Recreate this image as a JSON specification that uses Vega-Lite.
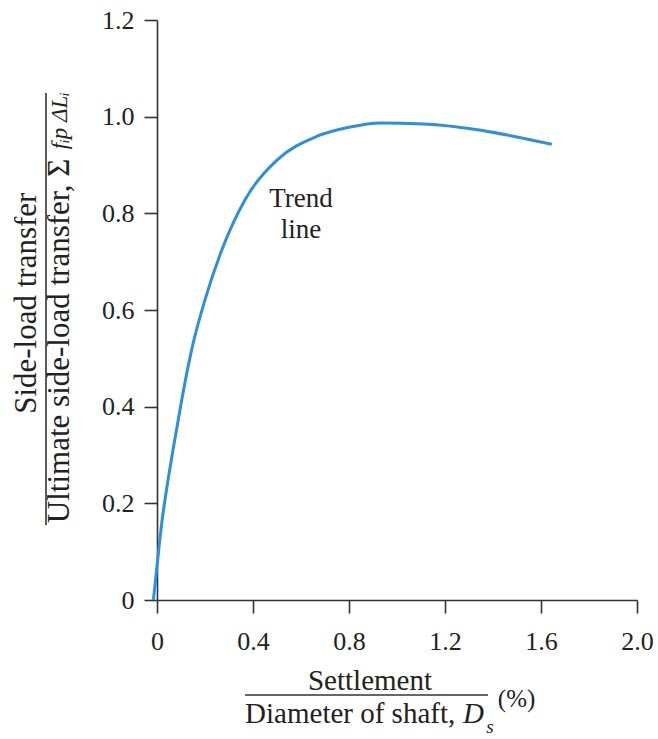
{
  "$schema": "https://vega.github.io/schema/vega-lite/v6.json",
  "width": 480,
  "height": 580,
  "autosize": "none",
  "padding": {"left": 157, "top": 20, "right": 21, "bottom": 139},
  "background": "white",
  "config": {"view": {"stroke": null}, "font": "Liberation Serif"},
  "datasets": {
    "curve": [
      {"x": -0.015, "y": 0},
      {"x": 0.0, "y": 0.07},
      {"x": 0.02, "y": 0.16},
      {"x": 0.045, "y": 0.245},
      {"x": 0.07, "y": 0.32},
      {"x": 0.103, "y": 0.414},
      {"x": 0.144, "y": 0.517},
      {"x": 0.2, "y": 0.621},
      {"x": 0.27, "y": 0.724},
      {"x": 0.367, "y": 0.828},
      {"x": 0.5, "y": 0.91},
      {"x": 0.665, "y": 0.959},
      {"x": 0.8, "y": 0.978},
      {"x": 0.93, "y": 0.987},
      {"x": 1.11, "y": 0.985},
      {"x": 1.35, "y": 0.972},
      {"x": 1.51, "y": 0.957},
      {"x": 1.645, "y": 0.943}
    ],
    "bars": [
      {"x": 0.367, "x2": 1.379, "y": -0.1966, "y2": -0.1966},
      {"x": -0.4625, "x2": -0.4625, "y": 0.155, "y2": 1.049}
    ]
  },
  "layer": [
    {
      "data": {"name": "curve"},
      "mark": {"type": "line", "color": "#2f8fd8", "strokeWidth": 3, "interpolate": "monotone"},
      "encoding": {
        "x": {
          "field": "x", "type": "quantitative",
          "scale": {"domain": [0, 2], "nice": false},
          "axis": {
            "title": null, "values": [0, 0.4, 0.8, 1.2, 1.6, 2.0],
            "labelExpr": "datum.value == 0 ? '0' : format(datum.value, '.1f')",
            "grid": false, "domainColor": "#333", "domainWidth": 1.6,
            "tickColor": "#333", "tickWidth": 1.6, "tickSize": 13,
            "labelFont": "Liberation Serif", "labelFontSize": 26, "labelColor": "#222",
            "labelPadding": 15, "labelFlush": false, "labelOverlap": false
          }
        },
        "y": {
          "field": "y", "type": "quantitative",
          "scale": {"domain": [0, 1.2], "nice": false},
          "axis": {
            "title": null, "values": [0, 0.2, 0.4, 0.6, 0.8, 1.0, 1.2],
            "labelExpr": "datum.value == 0 ? '0' : format(datum.value, '.1f')",
            "grid": false, "domainColor": "#333", "domainWidth": 1.6,
            "tickColor": "#333", "tickWidth": 1.6, "tickSize": 13,
            "labelFont": "Liberation Serif", "labelFontSize": 26, "labelColor": "#222",
            "labelPadding": 10, "labelFlush": false, "labelOverlap": false
          }
        }
      }
    },
    {
      "data": {"name": "bars"},
      "mark": {"type": "rule", "color": "#333", "strokeWidth": 1.6},
      "encoding": {
        "x": {"field": "x", "type": "quantitative", "scale": {"domain": [0, 2], "nice": false}},
        "x2": {"field": "x2"},
        "y": {"field": "y", "type": "quantitative", "scale": {"domain": [0, 1.2], "nice": false}},
        "y2": {"field": "y2"}
      }
    },
    {
      "data": {"values": [
        {"x": 0.6, "y": 0.813, "t": "Trend"},
        {"x": 0.6, "y": 0.749, "t": "line"}
      ]},
      "mark": {"type": "text", "align": "center", "baseline": "alphabetic", "fontSize": 27, "font": "Liberation Serif", "color": "#222"},
      "encoding": {
        "x": {"field": "x", "type": "quantitative", "scale": {"domain": [0, 2], "nice": false}},
        "y": {"field": "y", "type": "quantitative", "scale": {"domain": [0, 1.2], "nice": false}},
        "text": {"field": "t"}
      }
    },
    {
      "data": {"values": [
        {"x": 0.8875, "y": -0.1862, "t": "Settlement"}
      ]},
      "mark": {"type": "text", "align": "center", "baseline": "alphabetic", "fontSize": 29, "font": "Liberation Serif", "color": "#222"},
      "encoding": {
        "x": {"field": "x", "type": "quantitative", "scale": {"domain": [0, 2], "nice": false}},
        "y": {"field": "y", "type": "quantitative", "scale": {"domain": [0, 1.2], "nice": false}},
        "text": {"field": "t"}
      }
    },
    {
      "data": {"values": [
        {"x": 0.367, "y": -0.2545, "t": "Diameter of shaft,"}
      ]},
      "mark": {"type": "text", "align": "left", "baseline": "alphabetic", "fontSize": 29, "font": "Liberation Serif", "color": "#222"},
      "encoding": {
        "x": {"field": "x", "type": "quantitative", "scale": {"domain": [0, 2], "nice": false}},
        "y": {"field": "y", "type": "quantitative", "scale": {"domain": [0, 1.2], "nice": false}},
        "text": {"field": "t"}
      }
    },
    {
      "data": {"values": [
        {"x": 1.275, "y": -0.2545, "t": "D"}
      ]},
      "mark": {"type": "text", "align": "left", "baseline": "alphabetic", "fontSize": 29, "fontStyle": "italic", "font": "Liberation Serif", "color": "#222"},
      "encoding": {
        "x": {"field": "x", "type": "quantitative", "scale": {"domain": [0, 2], "nice": false}},
        "y": {"field": "y", "type": "quantitative", "scale": {"domain": [0, 1.2], "nice": false}},
        "text": {"field": "t"}
      }
    },
    {
      "data": {"values": [
        {"x": 1.372, "y": -0.275, "t": "s"}
      ]},
      "mark": {"type": "text", "align": "left", "baseline": "alphabetic", "fontSize": 19, "fontStyle": "italic", "font": "Liberation Serif", "color": "#222"},
      "encoding": {
        "x": {"field": "x", "type": "quantitative", "scale": {"domain": [0, 2], "nice": false}},
        "y": {"field": "y", "type": "quantitative", "scale": {"domain": [0, 1.2], "nice": false}},
        "text": {"field": "t"}
      }
    },
    {
      "data": {"values": [
        {"x": 1.42, "y": -0.221, "t": "(%)"}
      ]},
      "mark": {"type": "text", "align": "left", "baseline": "alphabetic", "fontSize": 25, "font": "Liberation Serif", "color": "#222"},
      "encoding": {
        "x": {"field": "x", "type": "quantitative", "scale": {"domain": [0, 2], "nice": false}},
        "y": {"field": "y", "type": "quantitative", "scale": {"domain": [0, 1.2], "nice": false}},
        "text": {"field": "t"}
      }
    },
    {
      "data": {"values": [
        {"x": -0.542, "y": 0.614, "t": "Side-load transfer"}
      ]},
      "mark": {"type": "text", "angle": 270, "align": "center", "baseline": "middle", "fontSize": 31, "font": "Liberation Serif", "color": "#222"},
      "encoding": {
        "x": {"field": "x", "type": "quantitative", "scale": {"domain": [0, 2], "nice": false}},
        "y": {"field": "y", "type": "quantitative", "scale": {"domain": [0, 1.2], "nice": false}},
        "text": {"field": "t"}
      }
    },
    {
      "data": {"values": [
        {"x": -0.404, "y": 0.159, "t": "Ultimate side-load transfer, Σ"}
      ]},
      "mark": {"type": "text", "angle": 270, "align": "left", "baseline": "middle", "fontSize": 31, "font": "Liberation Serif", "color": "#222"},
      "encoding": {
        "x": {"field": "x", "type": "quantitative", "scale": {"domain": [0, 2], "nice": false}},
        "y": {"field": "y", "type": "quantitative", "scale": {"domain": [0, 1.2], "nice": false}},
        "text": {"field": "t"}
      }
    },
    {
      "data": {"values": [
        {"x": -0.404, "y": 1.051, "t": "fᵢp ΔLᵢ"}
      ]},
      "mark": {"type": "text", "angle": 270, "align": "right", "baseline": "middle", "fontSize": 23, "fontStyle": "italic", "font": "Liberation Serif", "color": "#222"},
      "encoding": {
        "x": {"field": "x", "type": "quantitative", "scale": {"domain": [0, 2], "nice": false}},
        "y": {"field": "y", "type": "quantitative", "scale": {"domain": [0, 1.2], "nice": false}},
        "text": {"field": "t"}
      }
    }
  ]
}
